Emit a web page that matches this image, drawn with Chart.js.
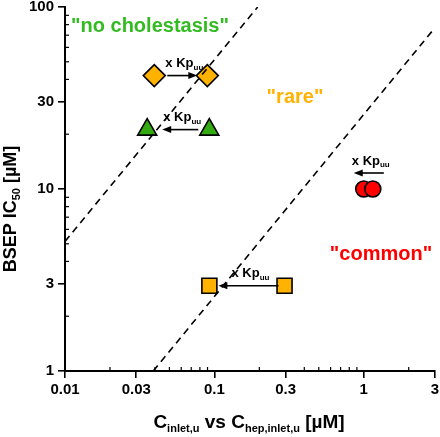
<!DOCTYPE html>
<html>
<head>
<meta charset="utf-8">
<script src="https://cdn.jsdelivr.net/npm/chart.js@4"></script>
<style>
  html, body { margin: 0; padding: 0; background: #fff; }
  #wrap { width: 440px; height: 437px; }
</style>
</head>
<body>
<div id="wrap"><canvas id="c" width="440" height="437"></canvas></div>
<script>
// ── Data ─────────────────────────────────────────────────────────────────────
const xTicks      = [0.01, 0.03, 0.1, 0.3, 1, 3];
const xTickLabels = ['0.01', '0.03', '0.1', '0.3', '1', '3'];
const yTicks      = [1, 3, 10, 30, 100];
const yTickLabels = ['1', '3', '10', '30', '100'];

const diamondX  = [0.0396, 0.0897];
const diamondY  = [42, 42];
const triangleX = [0.0355, 0.0925];
const triangleY = [21.2, 21.2];
const squareX   = [0.0926, 0.295];
const squareY   = [2.94, 2.94];
const circleX   = [1.0, 1.15];
const circleY   = [10.0, 10.0];

const line1X = [0.01, 0.195];
const line1Y = [5.15, 100];
const line2X = [0.039, 3];
const line2Y = [1, 77];

// ── Styles ───────────────────────────────────────────────────────────────────
const ORANGE = '#FFB300';
const GREEN  = '#33AA11';
const RED    = '#FF0000';
const FONT   = "'Liberation Sans', Arial, sans-serif";

const pts = (xs, ys) => xs.map((x, i) => ({ x, y: ys[i] }));

function markerSet(xs, ys, style, radius, color) {
  return {
    type: 'scatter',
    data: pts(xs, ys),
    pointStyle: style,
    pointRadius: radius,
    pointBackgroundColor: color,
    pointBorderColor: '#000',
    pointBorderWidth: 1.6,
  };
}
function dashSet(xs, ys) {
  return {
    type: 'line',
    data: pts(xs, ys),
    borderColor: '#000',
    borderWidth: 1.6,
    borderDash: [7, 5],
    pointRadius: 0,
    fill: false,
  };
}

// arrows: tail at point `from` of dataset, head at point `to`, offsets in px
const arrows = [
  { ds: 2, from: 0, to: 1, tailDx: 13,  headDx: -10, dy: 0 },
  { ds: 3, from: 1, to: 0, tailDx: -11, headDx: 15,  dy: 0 },
  { ds: 4, from: 1, to: 0, tailDx: -6,  headDx: 9,   dy: 0 },
  { ds: 5, from: 1, to: 0, tailDx: 11,  headDx: -10, dy: -16 },
];

// ── Helpers ──────────────────────────────────────────────────────────────────
function richWidth(ctx, parts, size) {
  let w = 0;
  parts.forEach(p => {
    ctx.font = `bold ${p.sub ? Math.round(size * 0.6) : size}px ${FONT}`;
    w += ctx.measureText(p.t).width;
  });
  return w;
}
function drawRich(ctx, parts, cx, cy, size) {
  const w = richWidth(ctx, parts, size);
  let x = cx - w / 2;
  ctx.textAlign = 'left';
  ctx.textBaseline = 'middle';
  parts.forEach(p => {
    const s = p.sub ? Math.round(size * 0.6) : size;
    ctx.font = `bold ${s}px ${FONT}`;
    ctx.fillText(p.t, x, p.sub ? cy + size * 0.32 : cy);
    x += ctx.measureText(p.t).width;
  });
}

const decor = {
  id: 'decor',
  afterDatasetsDraw(chart) {
    const { ctx, scales: { x, y }, chartArea: a } = chart;
    ctx.save();
    ctx.fillStyle = '#000';
    ctx.strokeStyle = '#000';

    // tick labels
    ctx.font = `bold 15px ${FONT}`;
    ctx.textAlign = 'center';
    ctx.textBaseline = 'middle';
    xTicks.forEach((v, i) => ctx.fillText(xTickLabels[i], x.getPixelForValue(v), a.bottom + 19));
    ctx.textAlign = 'right';
    yTicks.forEach((v, i) => ctx.fillText(yTickLabels[i], a.left - 11, y.getPixelForValue(v)));

    // minor ticks (inside)
    ctx.lineWidth = 1.2;
    for (let e = -2; e <= 0; e++) {
      for (let k = 2; k <= 9; k++) {
        const v = k * Math.pow(10, e);
        if (v > 3 || xTicks.includes(+v.toFixed(4))) continue;
        const px = x.getPixelForValue(v);
        ctx.beginPath(); ctx.moveTo(px, a.bottom); ctx.lineTo(px, a.bottom - 4); ctx.stroke();
      }
    }
    for (let e = 0; e <= 1; e++) {
      for (let k = 2; k <= 9; k++) {
        const v = k * Math.pow(10, e);
        if (yTicks.includes(v)) continue;
        const py = y.getPixelForValue(v);
        ctx.beginPath(); ctx.moveTo(a.left, py); ctx.lineTo(a.left + 4, py); ctx.stroke();
      }
    }

    // arrows + "x Kpuu" labels
    arrows.forEach(ar => {
      const d = chart.data.datasets[ar.ds].data;
      const y0 = y.getPixelForValue(d[ar.from].y) + ar.dy;
      const x0 = x.getPixelForValue(d[ar.from].x) + ar.tailDx;
      const x1 = x.getPixelForValue(d[ar.to].x) + ar.headDx;
      const dir = Math.sign(x1 - x0);
      ctx.lineWidth = 1.6;
      ctx.beginPath(); ctx.moveTo(x0, y0); ctx.lineTo(x1 - dir * 6, y0); ctx.stroke();
      ctx.beginPath();
      ctx.moveTo(x1, y0);
      ctx.lineTo(x1 - dir * 9, y0 - 3.5);
      ctx.lineTo(x1 - dir * 9, y0 + 3.5);
      ctx.closePath(); ctx.fill();
      drawRich(ctx, [{ t: 'x Kp' }, { t: 'uu', sub: true }], (x0 + x1) / 2 + 2, y0 - 12, 13);
    });

    // region labels
    ctx.font = `bold 20px ${FONT}`;
    ctx.textAlign = 'center';
    ctx.textBaseline = 'middle';
    ctx.fillStyle = '#33BB22';
    ctx.fillText('"no cholestasis"', 150, 26);
    ctx.fillStyle = ORANGE;
    ctx.fillText('"rare"', 295, 97);
    ctx.fillStyle = RED;
    ctx.fillText('"common"', 381, 254);

    // axis titles
    ctx.fillStyle = '#000';
    drawRich(ctx, [{ t: 'C' }, { t: 'inlet,u', sub: true }, { t: ' vs C' }, { t: 'hep,inlet,u', sub: true }, { t: ' [µM]' }],
      249, 423, 19);
    ctx.save();
    ctx.translate(11, 209);
    ctx.rotate(-Math.PI / 2);
    drawRich(ctx, [{ t: 'BSEP IC' }, { t: '50', sub: true }, { t: ' [µM]' }], 0, 0, 18);
    ctx.restore();
    ctx.restore();
  }
};

new Chart(document.getElementById('c'), {
  data: {
    datasets: [
      dashSet(line1X, line1Y),
      dashSet(line2X, line2Y),
      markerSet(diamondX, diamondY, 'rectRot', 11, ORANGE),
      markerSet(triangleX, triangleY, 'triangle', 11, GREEN),
      markerSet(squareX, squareY, 'rect', 10.6, ORANGE),
      markerSet(circleX, circleY, 'circle', 8, RED),
    ]
  },
  options: {
    responsive: false,
    animation: false,
    layout: { autoPadding: false, padding: { top: 7, right: 5, left: 0, bottom: 0 } },
    plugins: { legend: { display: false }, tooltip: { enabled: false } },
    scales: {
      x: {
        type: 'logarithmic',
        min: 0.01, max: 3,
        afterBuildTicks: s => { s.ticks = xTicks.map(v => ({ value: v })); },
        afterFit: s => { s.height = 66; },
        ticks: { display: false },
        grid: { drawOnChartArea: false, color: '#000', lineWidth: 1.6, tickLength: 7 },
        border: { color: '#000', width: 2 },
      },
      y: {
        type: 'logarithmic',
        min: 1, max: 100,
        afterBuildTicks: s => { s.ticks = yTicks.map(v => ({ value: v })); },
        afterFit: s => { s.width = 65; },
        ticks: { display: false },
        grid: { drawOnChartArea: false, color: '#000', lineWidth: 1.6, tickLength: 7 },
        border: { color: '#000', width: 2 },
      }
    }
  },
  plugins: [decor]
});
</script>
</body>
</html>
